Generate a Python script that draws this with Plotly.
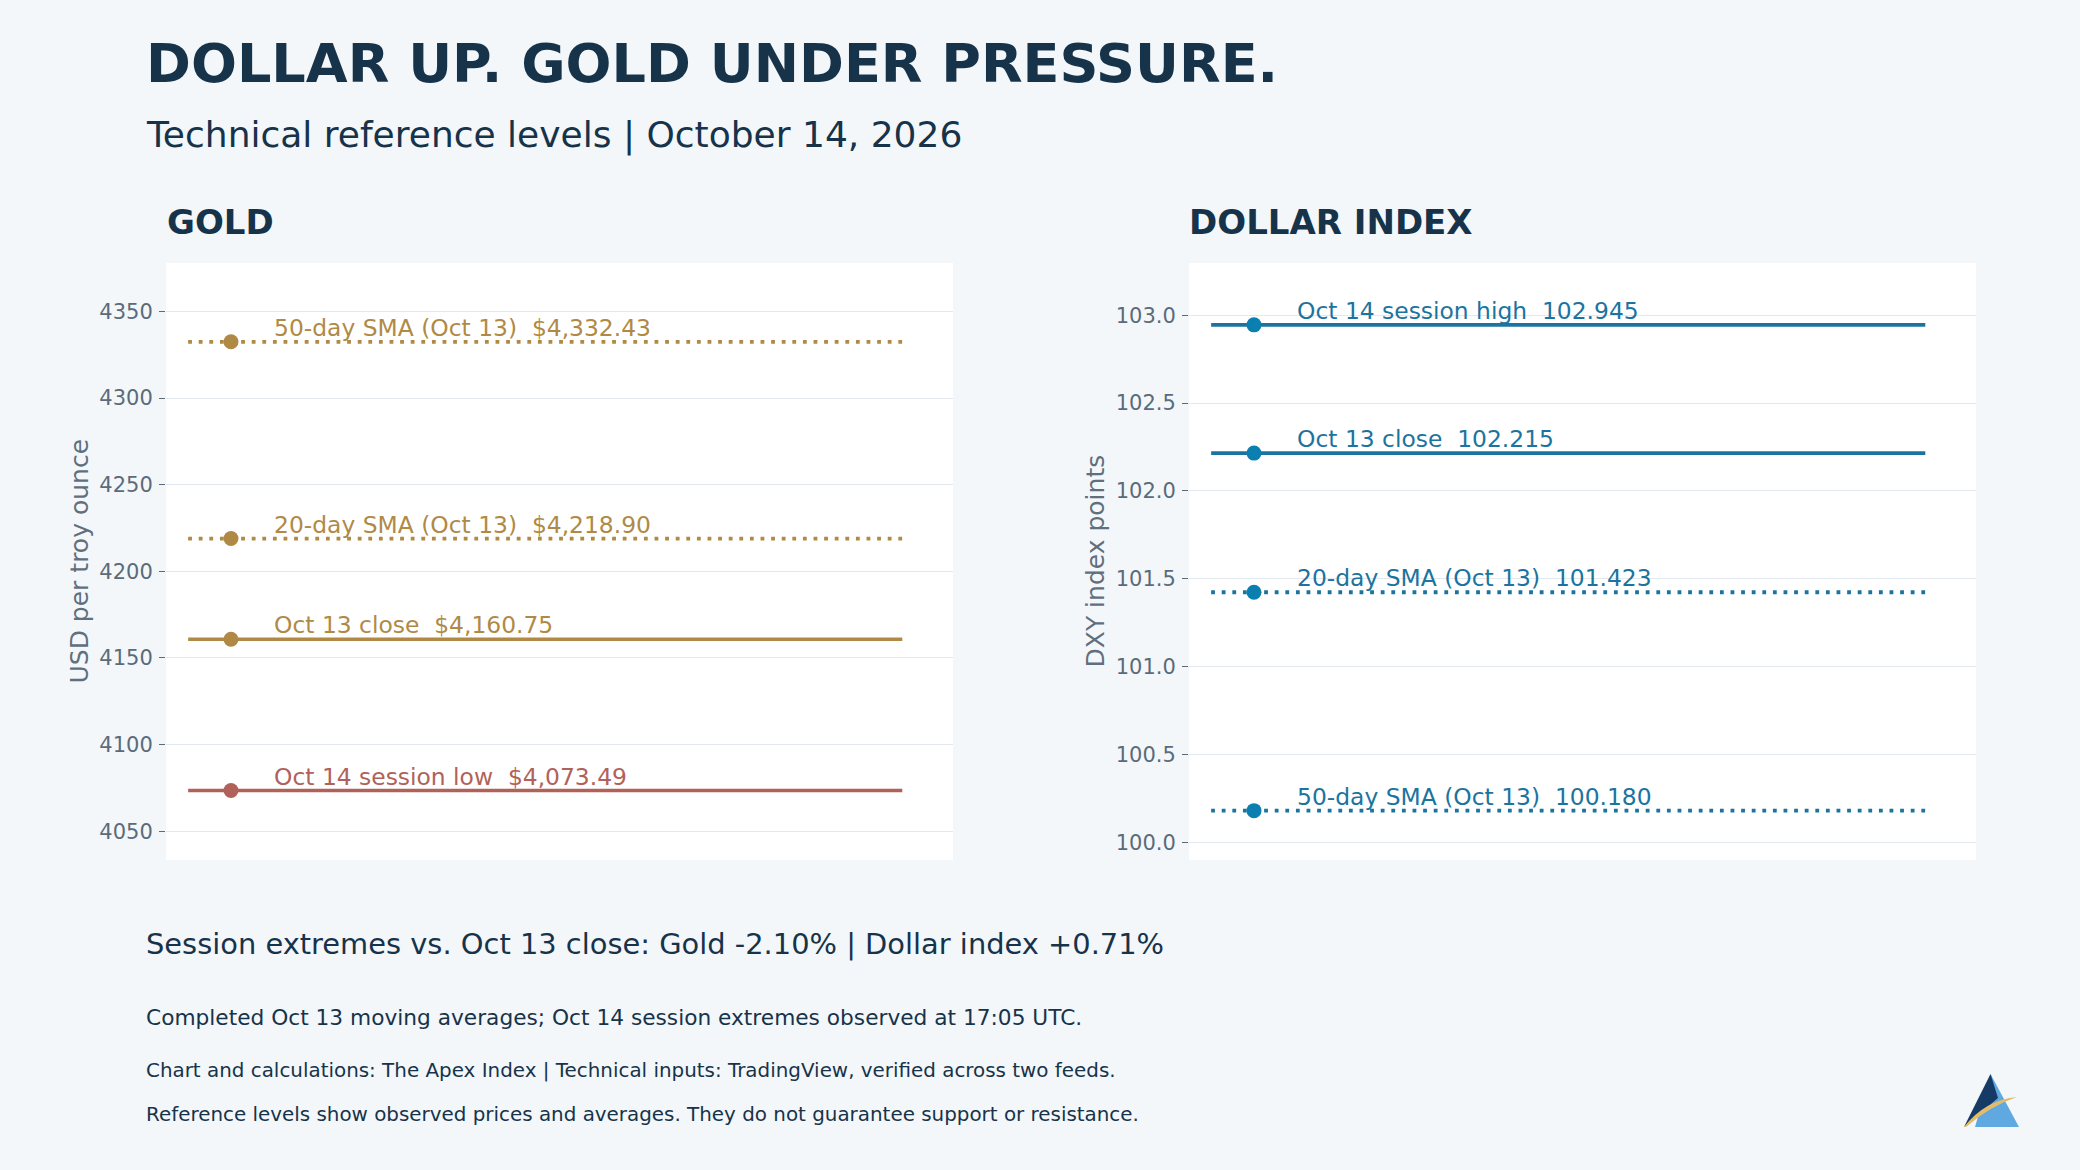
import plotly.graph_objects as go

# ---------------- data ----------------
gold_labels = ["50-day SMA (Oct 13)", "20-day SMA (Oct 13)", "Oct 13 close", "Oct 14 session low"]
gold_values = [4332.43, 4218.90, 4160.75, 4073.49]
gold_kinds = ["sma", "sma", "close", "low"]

dxy_labels = ["Oct 14 session high", "Oct 13 close", "20-day SMA (Oct 13)", "50-day SMA (Oct 13)"]
dxy_values = [102.945, 102.215, 101.423, 100.180]
dxy_kinds = ["high", "close", "sma", "sma"]

gold_ticks = [4050, 4100, 4150, 4200, 4250, 4300, 4350]
dxy_ticks = [100.0, 100.5, 101.0, 101.5, 102.0, 102.5, 103.0]

line_x = [0, 1]
dot_x = 0.06
label_x = 0.118

# ---------------- styles ----------------
FONT = "DejaVu Sans"
BG = "#F3F7FA"
NAVY = "#17334A"
TICK = "#5B6B7A"
GRID = "#E3E8EE"
GOLD = "#B08A45"
RED = "#B0625A"
BLUE_LINE = "#1B74A0"
BLUE_DOT = "#0B7FB0"

W, H = 2080, 1170

style_gold = {
    "sma": dict(color=GOLD, dot=GOLD, dash="3.8px,6.8px", width=3.8),
    "close": dict(color=GOLD, dot=GOLD, dash="solid", width=3.6),
    "low": dict(color=RED, dot=RED, dash="solid", width=3.6),
}
style_dxy = {
    "sma": dict(color=BLUE_LINE, dot=BLUE_DOT, dash="3.8px,6.8px", width=3.8),
    "close": dict(color=BLUE_LINE, dot=BLUE_DOT, dash="solid", width=3.6),
    "high": dict(color=BLUE_LINE, dot=BLUE_DOT, dash="solid", width=3.6),
}

fig = go.Figure()
annotations = []


def add_panel(labels, values, kinds, styles, xa, ya, fmt):
    for lab, v, k in zip(labels, values, kinds):
        st = styles[k]
        fig.add_trace(go.Scatter(
            x=line_x, y=[v, v], mode="lines", xaxis=xa, yaxis=ya,
            line=dict(color=st["color"], width=st["width"], dash=st["dash"]),
            hoverinfo="skip", showlegend=False))
        fig.add_trace(go.Scatter(
            x=[dot_x], y=[v], mode="markers", xaxis=xa, yaxis=ya,
            marker=dict(color=st["dot"], size=15, line=dict(width=0)),
            showlegend=False))
        annotations.append(dict(
            x=label_x, y=v, xref=xa, yref=ya, xanchor="left", yanchor="bottom",
            text=fmt(lab, v), showarrow=False, yshift=-2,
            font=dict(family=FONT, size=23.4, color=st["color"])))


add_panel(gold_labels, gold_values, gold_kinds, style_gold, "x", "y",
          lambda l, v: f"{l}\u00a0\u00a0${v:,.2f}")
add_panel(dxy_labels, dxy_values, dxy_kinds, style_dxy, "x2", "y2",
          lambda l, v: f"{l}\u00a0\u00a0{v:.3f}")

ydom = [1 - 860 / H, 1 - 263 / H]
xr = [-0.031, 1.071]

axis_common = dict(
    showgrid=True, gridcolor=GRID, gridwidth=1.3, zeroline=False, showline=False,
    ticks="outside", ticklen=6, tickwidth=1.3, tickcolor=TICK, ticklabelstandoff=2,
    tickfont=dict(family=FONT, size=21, color=TICK),
)

fig.update_layout(
    width=W, height=H,
    margin=dict(l=0, r=0, t=0, b=0),
    paper_bgcolor=BG, plot_bgcolor="white",
    font=dict(family=FONT, color=NAVY),
    showlegend=False,
    xaxis=dict(domain=[166 / W, 953 / W], range=xr, visible=False, fixedrange=True),
    xaxis2=dict(domain=[1189 / W, 1976 / W], range=xr, visible=False, fixedrange=True, anchor="y2"),
    yaxis=dict(domain=ydom, range=[4033.4, 4377.9], tickvals=gold_ticks,
               ticktext=[str(t) for t in gold_ticks], anchor="x", **axis_common),
    yaxis2=dict(domain=ydom, range=[99.899, 103.297], tickvals=dxy_ticks,
                ticktext=[f"{t:.1f}" for t in dxy_ticks], anchor="x2", **axis_common),
)


def paper_text(x, ypx, text, size, color=NAVY, bold=False, angle=0, xanchor="left"):
    annotations.append(dict(
        x=x / W, y=1 - ypx / H, xref="paper", yref="paper",
        xanchor=xanchor, yanchor="middle", showarrow=False, textangle=angle,
        text=f"<b>{text}</b>" if bold else text,
        font=dict(family=FONT, size=size, color=color)))


# headings
paper_text(143.5, 63, "DOLLAR UP. GOLD UNDER PRESSURE.", 54.1, bold=True)
paper_text(143.5, 135, "Technical reference levels | October 14, 2026", 36)
paper_text(165, 222, "GOLD", 34, bold=True)
paper_text(1187, 222, "DOLLAR INDEX", 34, bold=True)

# axis titles
paper_text(79, 561.5, "USD per troy ounce", 25, color="#5F6F7E", angle=-90, xanchor="center")
paper_text(1095, 561.5, "DXY index points", 25, color="#5F6F7E", angle=-90, xanchor="center")

# footer
paper_text(143.5, 944, "Session extremes vs. Oct 13 close: Gold -2.10% | Dollar index +0.71%", 28.9)
paper_text(143.5, 1017, "Completed Oct 13 moving averages; Oct 14 session extremes observed at 17:05 UTC.", 21.7)
paper_text(143.5, 1070, "Chart and calculations: The Apex Index | Technical inputs: TradingView, verified across two feeds.", 19.9)
paper_text(143.5, 1114, "Reference levels show observed prices and averages. They do not guarantee support or resistance.", 19.9)

fig.update_layout(annotations=annotations)


# simple logo mark (decorative)
def P(x, y):
    return f"{x / W:.5f},{1 - y / H:.5f}"


shapes = [
    dict(type="path", xref="paper", yref="paper",
         path=f"M {P(1990.5, 1074)} L {P(2019, 1127)} L {P(1975, 1127)} Z",
         fillcolor="#5FA8E0", line=dict(width=0)),
    dict(type="path", xref="paper", yref="paper",
         path=f"M {P(1990.5, 1074)} L {P(1998, 1098)} L {P(1964, 1127)} Z",
         fillcolor="#163A66", line=dict(width=0)),
    dict(type="path", xref="paper", yref="paper",
         path=f"M {P(1964, 1127)} Q {P(1985, 1100)} {P(2017, 1097)} Q {P(1990, 1106)} {P(1966, 1127)} Z",
         fillcolor="#E2BC6A", line=dict(width=0)),
]
fig.update_layout(shapes=shapes)

fig.write_html("out.html")
